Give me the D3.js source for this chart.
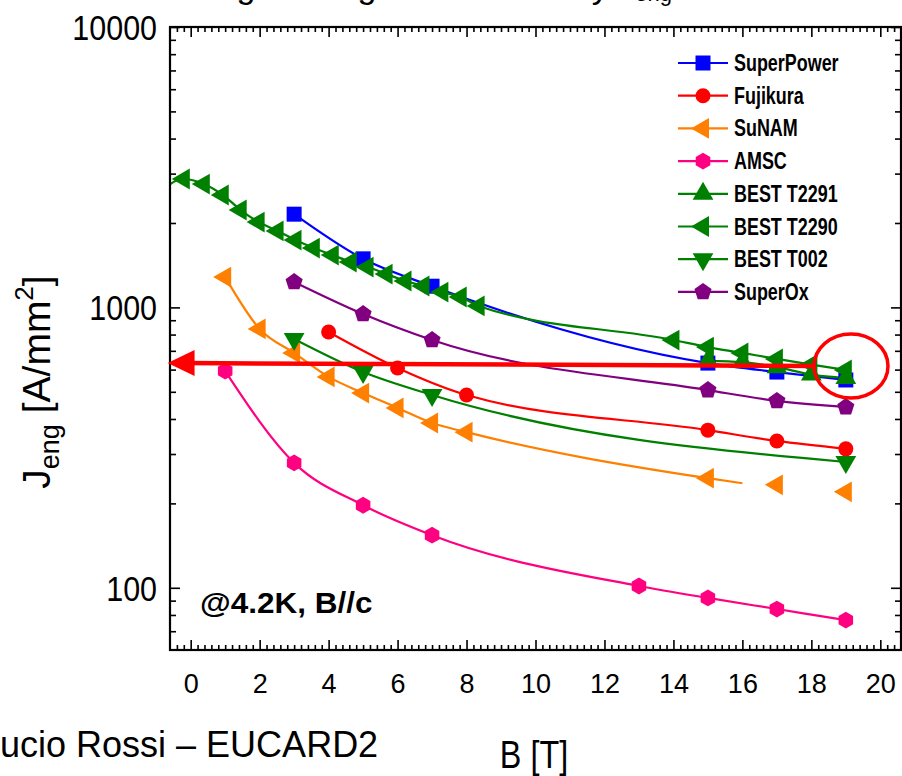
<!DOCTYPE html>
<html>
<head>
<meta charset="utf-8">
<script src="https://cdn.jsdelivr.net/npm/d3@7"></script>
<style>
  body { margin: 0; background: #fff; }
  svg { display: block; }
</style>
</head>
<body>
<svg id="chart" width="902" height="776"></svg>
<script>
// ---- data (B in tesla, Jeng in A/mm2) ----
const seriesNames = ["SuperPower", "Fujikura", "SuNAM", "AMSC", "BEST T2291", "BEST T2290", "BEST T002", "SuperOx"];

const superPowerB = [3, 5, 7, 15, 17, 19];
const superPowerJ = [2150, 1490, 1190, 633, 588, 551];

const fujikuraB = [4, 6, 8, 15, 17, 19];
const fujikuraJ = [817, 608, 487, 365, 334, 313];

const sunamB = [1, 2, 3, 4, 5, 6, 7, 8, 15];
const sunamJ = [1283, 838, 688, 565, 495, 438, 387, 359, 246];
const sunamTailB = [16];            // line continues, no symbol
const sunamTailJ = [236];
const sunamLooseB = [17, 19];       // symbols only
const sunamLooseJ = [233, 220];

const amscB = [1, 3, 5, 7, 13, 15, 17, 19];
const amscJ = [593, 279, 197, 154, 101.5, 92, 84, 76.7];

const t2291B = [15, 16, 17, 18, 19];
const t2291J = [645, 638, 612, 576, 560];

const t2290B = [-1.0, -0.2, 0.38, 0.93, 1.45, 1.97, 2.52, 3.04, 3.57, 4.12, 4.64, 5.13, 5.68, 6.23, 6.75, 7.3, 7.83, 8.35, 14, 15, 16, 17, 18, 19];
const t2290J = [2500, 2870, 2754, 2517, 2225, 2016, 1873, 1739, 1628, 1537, 1451, 1393, 1315, 1242, 1192, 1134, 1089, 1012, 765, 722, 688, 655, 625, 598];

const t002B = [3, 5, 7, 19];
const t002J = [771, 588, 487, 281];

const superOxB = [3, 5, 7, 15, 17, 19];
const superOxJ = [1232, 947, 765, 507, 464, 441];

const xMajorTicks = [0, 2, 4, 6, 8, 10, 12, 14, 16, 18, 20];
const yMajorTicks = [100, 1000, 10000];

// red annotation: arrow at ~630 A/mm2 and a ring round the 19 T points
const arrowTip = [-0.67, 633];
const arrowEnd = [18.07, 618];
const ringCenter = [19.15, 618];

// ---- setup ----
const svg = d3.select("#chart");
const W = 902, H = 776;
const plotL = 170, plotR = 901, plotT = 27, plotB = 650;
const FONT = "Liberation Sans, Arial, sans-serif";

svg.append("rect").attr("width", W).attr("height", H).attr("fill", "#fff");

const x = d3.scaleLinear().domain([-0.6, 20.6]).range([plotL, plotR]);
const y = d3.scaleLog().domain([60, 10000]).range([plotB, plotT]);

const colors = {
  blue: "#0000ff",
  red: "#ff0000",
  orange: "#ff8000",
  pink: "#ff0080",
  green: "#008000",
  purple: "#800080"
};

// narrow look without a narrow font installed: squeeze horizontally
function squeezed(parent, px, py, sx) {
  return parent.append("g")
    .attr("transform", `translate(${px},${py}) scale(${sx},1)`)
    .append("text")
    .attr("font-family", FONT);
}

// title (mostly above the picture, only descenders show)
const title = svg.append("text")
  .attr("x", 672).attr("y", -2)
  .attr("text-anchor", "end")
  .attr("font-family", FONT)
  .attr("font-size", 34);
title.append("tspan").text("Engineering current density J");
title.append("tspan").attr("font-size", 22).attr("dy", 3).text("eng");

// ---- axes ----
function minorX() {
  const out = [];
  for (let i = -2; i <= 103; i++) {
    const v = i * 0.2;
    if (i % 10 !== 0 && v > -0.6 && v < 20.6) out.push(v);
  }
  return out;
}
function minorY() {
  const out = [];
  [10, 100, 1000].forEach(d => {
    for (let k = 2; k <= 9; k++) {
      const v = k * d;
      if (v > 60 && v < 10000) out.push(v);
    }
  });
  return out;
}

const axes = svg.append("g").attr("class", "axes");

const xb = axes.append("g").attr("transform", `translate(0,${plotB})`)
  .call(d3.axisBottom(x).tickValues(xMajorTicks).tickSize(-10).tickPadding(24).tickFormat(d3.format("d")));
axes.append("g").attr("transform", `translate(0,${plotB})`)
  .call(d3.axisBottom(x).tickValues(minorX()).tickSize(-5).tickFormat(""));
axes.append("g").attr("transform", `translate(0,${plotT})`)
  .call(d3.axisTop(x).tickValues(xMajorTicks).tickSize(-10).tickFormat(""));
axes.append("g").attr("transform", `translate(0,${plotT})`)
  .call(d3.axisTop(x).tickValues(minorX()).tickSize(-5).tickFormat(""));

const yl = axes.append("g").attr("transform", `translate(${plotL},0)`)
  .call(d3.axisLeft(y).tickValues(yMajorTicks).tickSize(-10).tickPadding(13).tickFormat(d3.format("d")));
axes.append("g").attr("transform", `translate(${plotL},0)`)
  .call(d3.axisLeft(y).tickValues(minorY()).tickSize(-6).tickFormat(""));
axes.append("g").attr("transform", `translate(${plotR},0)`)
  .call(d3.axisRight(y).tickValues(yMajorTicks).tickSize(-10).tickFormat(""));
axes.append("g").attr("transform", `translate(${plotR},0)`)
  .call(d3.axisRight(y).tickValues(minorY()).tickSize(-6).tickFormat(""));

axes.selectAll(".domain").remove();
axes.selectAll(".tick line").attr("stroke", "#000").attr("stroke-width", 1.6);

xb.selectAll(".tick text")
  .attr("font-family", FONT)
  .attr("font-size", 27)
  .attr("fill", "#000");

const yScaleX = 0.87;
yl.selectAll(".tick text")
  .attr("font-family", FONT)
  .attr("font-size", 35)
  .attr("dy", "0.35em")
  .attr("x", -13 / yScaleX)
  .attr("transform", `scale(${yScaleX},1)`)
  .attr("fill", "#000");

// ---- data ----
svg.append("defs").append("clipPath").attr("id", "plotclip")
  .append("rect").attr("x", plotL).attr("y", plotT).attr("width", plotR - plotL).attr("height", plotB - plotT);

const plot = svg.append("g").attr("clip-path", "url(#plotclip)");

function polygon(n, r, rotDeg) {
  const pts = [];
  for (let i = 0; i < n; i++) {
    const a = (rotDeg + i * 360 / n) * Math.PI / 180;
    pts.push([r * Math.sin(a), -r * Math.cos(a)]);
  }
  return "M" + pts.map(p => p[0].toFixed(2) + "," + p[1].toFixed(2)).join("L") + "Z";
}

const shapes = {
  square: "M-7.5,-7.5H7.5V7.5H-7.5Z",
  circle: d3.symbol(d3.symbolCircle, Math.PI * 7.5 * 7.5)(),
  triUp: polygon(3, 12, 0),
  triLeft: polygon(3, 12, -90),
  triDown: polygon(3, 12, 180),
  hexagon: polygon(6, 8.4, 0),
  pentagon: polygon(5, 9, 0)
};

function zipPts(bs, js) {
  return bs.map((b, i) => [b, js[i]]);
}

const line = d3.line()
  .x(d => x(d[0]))
  .y(d => y(d[1]))
  .curve(d3.curveMonotoneX);

function drawLine(pts, color) {
  plot.append("path")
    .attr("d", line(pts))
    .attr("fill", "none")
    .attr("stroke", color)
    .attr("stroke-width", 2.2);
}

function drawMarks(pts, shape, color) {
  plot.append("g").selectAll("path")
    .data(pts)
    .join("path")
    .attr("transform", d => `translate(${x(d[0])},${y(d[1])})`)
    .attr("d", shapes[shape])
    .attr("fill", color);
}

const series = [
  { name: seriesNames[3], pts: zipPts(amscB, amscJ), color: colors.pink, shape: "hexagon" },
  { name: seriesNames[2], pts: zipPts(sunamB, sunamJ), color: colors.orange, shape: "triLeft",
    tail: zipPts(sunamTailB, sunamTailJ), loose: zipPts(sunamLooseB, sunamLooseJ) },
  { name: seriesNames[6], pts: zipPts(t002B, t002J), color: colors.green, shape: "triDown" },
  { name: seriesNames[1], pts: zipPts(fujikuraB, fujikuraJ), color: colors.red, shape: "circle" },
  { name: seriesNames[7], pts: zipPts(superOxB, superOxJ), color: colors.purple, shape: "pentagon" },
  { name: seriesNames[0], pts: zipPts(superPowerB, superPowerJ), color: colors.blue, shape: "square" },
  { name: seriesNames[5], pts: zipPts(t2290B, t2290J), color: colors.green, shape: "triLeft" },
  { name: seriesNames[4], pts: zipPts(t2291B, t2291J), color: colors.green, shape: "triUp" }
];

series.forEach(s => {
  drawLine(s.tail ? s.pts.concat(s.tail) : s.pts, s.color);
});
series.forEach(s => {
  drawMarks(s.pts, s.shape, s.color);
  if (s.loose) drawMarks(s.loose, s.shape, s.color);
});

// frame
svg.append("rect")
  .attr("x", plotL).attr("y", plotT)
  .attr("width", plotR - plotL).attr("height", plotB - plotT)
  .attr("fill", "none").attr("stroke", "#000").attr("stroke-width", 2.2);

// ---- red annotation ----
const ax0 = x(arrowTip[0]), ay0 = y(arrowTip[1]);
const ax1 = x(arrowEnd[0]), ay1 = y(arrowEnd[1]);
svg.append("line")
  .attr("x1", ax0 + 20).attr("y1", ay0)
  .attr("x2", ax1).attr("y2", ay1)
  .attr("stroke", colors.red).attr("stroke-width", 4.5);
svg.append("path")
  .attr("d", `M${ax0},${ay0}L${ax0 + 27},${ay0 - 13}L${ax0 + 27},${ay0 + 13}Z`)
  .attr("fill", colors.red);
svg.append("ellipse")
  .attr("cx", x(ringCenter[0])).attr("cy", y(ringCenter[1]))
  .attr("rx", 37).attr("ry", 32)
  .attr("fill", "none").attr("stroke", colors.red).attr("stroke-width", 3.5);

// ---- legend ----
const legendOrder = [
  { name: seriesNames[0], color: colors.blue, shape: "square" },
  { name: seriesNames[1], color: colors.red, shape: "circle" },
  { name: seriesNames[2], color: colors.orange, shape: "triLeft" },
  { name: seriesNames[3], color: colors.pink, shape: "hexagon" },
  { name: seriesNames[4], color: colors.green, shape: "triUp" },
  { name: seriesNames[5], color: colors.green, shape: "triLeft" },
  { name: seriesNames[6], color: colors.green, shape: "triDown" },
  { name: seriesNames[7], color: colors.purple, shape: "pentagon" }
];

const legend = svg.append("g").attr("class", "legend");
legendOrder.forEach((d, i) => {
  const ly = 63 + i * 32.7;
  legend.append("line")
    .attr("x1", 678).attr("x2", 728).attr("y1", ly).attr("y2", ly)
    .attr("stroke", d.color).attr("stroke-width", 2.2);
  legend.append("path")
    .attr("transform", `translate(703,${ly})`)
    .attr("d", shapes[d.shape])
    .attr("fill", d.color);
  squeezed(legend, 734, ly + 8, 0.78)
    .attr("font-weight", "bold")
    .attr("font-size", 23)
    .attr("fill", "#000")
    .text(d.name);
});

// ---- labels ----
squeezed(svg, 200, 613, 1.05)
  .attr("font-weight", "bold")
  .attr("font-size", 30)
  .text("@4.2K, B//c");

squeezed(svg, 534, 768, 0.83)
  .attr("text-anchor", "middle")
  .attr("font-size", 39)
  .text("B [T]");

const ylab = svg.append("text")
  .attr("transform", "translate(50,382) rotate(-90)")
  .attr("text-anchor", "middle")
  .attr("font-family", FONT)
  .attr("font-size", 39);
ylab.append("tspan").text("J");
ylab.append("tspan").attr("font-size", 27).attr("dy", 9).text("eng");
ylab.append("tspan").attr("dy", -9).text(" [A/mm");
ylab.append("tspan").attr("font-size", 26).attr("dy", -17).text("2");
ylab.append("tspan").attr("dy", 17).text("]");

svg.append("text")
  .attr("x", -20).attr("y", 757)
  .attr("font-family", FONT)
  .attr("font-size", 36)
  .text("Lucio Rossi \u2013 EUCARD2");
</script>
</body>
</html>
